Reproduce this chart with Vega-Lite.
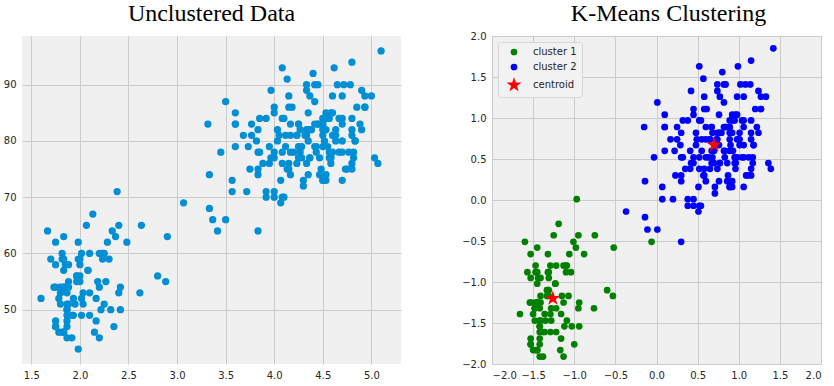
{
"$schema": "https://vega.github.io/schema/vega-lite/v6.json",
"background": "white",
"padding": {"left": 3, "top": 2, "right": 5, "bottom": 5},
"resolve": {"scale": {"color": "independent", "shape": "independent"}},
"config": {
  "view": {"fill": "#f0f0f0", "stroke": null},
  "axis": {"domain": false, "ticks": false, "grid": true, "gridColor": "#cbcbcb", "gridWidth": 1, "labelFont": "DejaVu Sans", "labelFontSize": 10, "labelColor": "#262626", "labelPadding": 6},
  "title": {"font": "Liberation Serif", "fontSize": 24, "fontWeight": "normal", "color": "#000000", "anchor": "middle"},
  "concat": {"spacing": 60}
},
"data": {"values": [
{"e":3.6,"w":79,"x":0.10,"y":0.60,"c":"cluster 2"},
{"e":1.8,"w":54,"x":-1.48,"y":-1.25,"c":"cluster 1"},
{"e":3.333,"w":74,"x":-0.14,"y":0.23,"c":"cluster 2"},
{"e":2.283,"w":62,"x":-1.06,"y":-0.66,"c":"cluster 1"},
{"e":4.533,"w":85,"x":0.92,"y":1.04,"c":"cluster 2"},
{"e":2.883,"w":55,"x":-0.53,"y":-1.17,"c":"cluster 1"},
{"e":4.7,"w":88,"x":1.06,"y":1.26,"c":"cluster 2"},
{"e":3.6,"w":85,"x":0.10,"y":1.04,"c":"cluster 2"},
{"e":1.95,"w":51,"x":-1.35,"y":-1.47,"c":"cluster 1"},
{"e":4.35,"w":85,"x":0.76,"y":1.04,"c":"cluster 2"},
{"e":1.833,"w":54,"x":-1.45,"y":-1.25,"c":"cluster 1"},
{"e":3.917,"w":84,"x":0.38,"y":0.97,"c":"cluster 2"},
{"e":4.2,"w":78,"x":0.63,"y":0.52,"c":"cluster 2"},
{"e":1.75,"w":47,"x":-1.53,"y":-1.76,"c":"cluster 1"},
{"e":4.7,"w":83,"x":1.06,"y":0.89,"c":"cluster 2"},
{"e":2.167,"w":52,"x":-1.16,"y":-1.39,"c":"cluster 1"},
{"e":1.75,"w":62,"x":-1.53,"y":-0.66,"c":"cluster 1"},
{"e":4.8,"w":84,"x":1.15,"y":0.97,"c":"cluster 2"},
{"e":1.6,"w":52,"x":-1.66,"y":-1.39,"c":"cluster 1"},
{"e":4.25,"w":79,"x":0.67,"y":0.60,"c":"cluster 2"},
{"e":1.8,"w":51,"x":-1.48,"y":-1.47,"c":"cluster 1"},
{"e":1.75,"w":47,"x":-1.53,"y":-1.76,"c":"cluster 1"},
{"e":3.45,"w":78,"x":-0.03,"y":0.52,"c":"cluster 2"},
{"e":3.067,"w":69,"x":-0.37,"y":-0.14,"c":"cluster 2"},
{"e":4.533,"w":74,"x":0.92,"y":0.23,"c":"cluster 2"},
{"e":3.6,"w":83,"x":0.10,"y":0.89,"c":"cluster 2"},
{"e":1.967,"w":55,"x":-1.33,"y":-1.17,"c":"cluster 1"},
{"e":4.083,"w":76,"x":0.52,"y":0.38,"c":"cluster 2"},
{"e":3.85,"w":78,"x":0.32,"y":0.52,"c":"cluster 2"},
{"e":4.433,"w":79,"x":0.83,"y":0.60,"c":"cluster 2"},
{"e":4.3,"w":73,"x":0.71,"y":0.16,"c":"cluster 2"},
{"e":4.467,"w":77,"x":0.86,"y":0.45,"c":"cluster 2"},
{"e":3.367,"w":66,"x":-0.11,"y":-0.36,"c":"cluster 2"},
{"e":4.033,"w":80,"x":0.48,"y":0.67,"c":"cluster 2"},
{"e":3.833,"w":74,"x":0.30,"y":0.23,"c":"cluster 2"},
{"e":2.017,"w":52,"x":-1.29,"y":-1.39,"c":"cluster 1"},
{"e":1.867,"w":48,"x":-1.42,"y":-1.69,"c":"cluster 1"},
{"e":4.833,"w":80,"x":1.18,"y":0.67,"c":"cluster 2"},
{"e":1.833,"w":59,"x":-1.45,"y":-0.88,"c":"cluster 1"},
{"e":4.783,"w":90,"x":1.14,"y":1.41,"c":"cluster 2"},
{"e":4.35,"w":80,"x":0.76,"y":0.67,"c":"cluster 2"},
{"e":1.883,"w":58,"x":-1.41,"y":-0.95,"c":"cluster 1"},
{"e":4.567,"w":84,"x":0.95,"y":0.97,"c":"cluster 2"},
{"e":1.75,"w":58,"x":-1.53,"y":-0.95,"c":"cluster 1"},
{"e":4.533,"w":73,"x":0.92,"y":0.16,"c":"cluster 2"},
{"e":3.317,"w":83,"x":-0.15,"y":0.89,"c":"cluster 2"},
{"e":3.833,"w":64,"x":0.30,"y":-0.51,"c":"cluster 2"},
{"e":2.1,"w":53,"x":-1.22,"y":-1.32,"c":"cluster 1"},
{"e":4.633,"w":82,"x":1.01,"y":0.82,"c":"cluster 2"},
{"e":2.0,"w":59,"x":-1.31,"y":-0.88,"c":"cluster 1"},
{"e":4.8,"w":75,"x":1.15,"y":0.30,"c":"cluster 2"},
{"e":4.716,"w":90,"x":1.08,"y":1.41,"c":"cluster 2"},
{"e":1.833,"w":54,"x":-1.45,"y":-1.25,"c":"cluster 1"},
{"e":4.833,"w":80,"x":1.18,"y":0.67,"c":"cluster 2"},
{"e":1.733,"w":54,"x":-1.54,"y":-1.25,"c":"cluster 1"},
{"e":4.883,"w":83,"x":1.22,"y":0.89,"c":"cluster 2"},
{"e":3.717,"w":71,"x":0.20,"y":0.01,"c":"cluster 2"},
{"e":1.667,"w":64,"x":-1.60,"y":-0.51,"c":"cluster 1"},
{"e":4.567,"w":77,"x":0.95,"y":0.45,"c":"cluster 2"},
{"e":4.317,"w":81,"x":0.73,"y":0.74,"c":"cluster 2"},
{"e":2.233,"w":59,"x":-1.10,"y":-0.88,"c":"cluster 1"},
{"e":4.5,"w":84,"x":0.89,"y":0.97,"c":"cluster 2"},
{"e":1.75,"w":48,"x":-1.53,"y":-1.69,"c":"cluster 1"},
{"e":4.8,"w":82,"x":1.15,"y":0.82,"c":"cluster 2"},
{"e":1.817,"w":60,"x":-1.47,"y":-0.80,"c":"cluster 1"},
{"e":4.4,"w":92,"x":0.80,"y":1.56,"c":"cluster 2"},
{"e":4.167,"w":78,"x":0.60,"y":0.52,"c":"cluster 2"},
{"e":4.7,"w":78,"x":1.06,"y":0.52,"c":"cluster 2"},
{"e":2.067,"w":65,"x":-1.25,"y":-0.43,"c":"cluster 1"},
{"e":4.7,"w":73,"x":1.06,"y":0.16,"c":"cluster 2"},
{"e":4.033,"w":82,"x":0.48,"y":0.82,"c":"cluster 2"},
{"e":1.967,"w":56,"x":-1.33,"y":-1.10,"c":"cluster 1"},
{"e":4.5,"w":79,"x":0.89,"y":0.60,"c":"cluster 2"},
{"e":4.0,"w":71,"x":0.45,"y":0.01,"c":"cluster 2"},
{"e":1.983,"w":62,"x":-1.32,"y":-0.66,"c":"cluster 1"},
{"e":5.067,"w":76,"x":1.39,"y":0.38,"c":"cluster 2"},
{"e":2.017,"w":60,"x":-1.29,"y":-0.80,"c":"cluster 1"},
{"e":4.567,"w":78,"x":0.95,"y":0.52,"c":"cluster 2"},
{"e":3.883,"w":76,"x":0.35,"y":0.38,"c":"cluster 2"},
{"e":3.6,"w":83,"x":0.10,"y":0.89,"c":"cluster 2"},
{"e":4.133,"w":75,"x":0.57,"y":0.30,"c":"cluster 2"},
{"e":4.333,"w":82,"x":0.74,"y":0.82,"c":"cluster 2"},
{"e":4.1,"w":70,"x":0.54,"y":-0.07,"c":"cluster 2"},
{"e":2.633,"w":65,"x":-0.75,"y":-0.43,"c":"cluster 1"},
{"e":4.067,"w":73,"x":0.51,"y":0.16,"c":"cluster 2"},
{"e":4.933,"w":88,"x":1.27,"y":1.26,"c":"cluster 2"},
{"e":3.95,"w":76,"x":0.41,"y":0.38,"c":"cluster 2"},
{"e":4.517,"w":80,"x":0.90,"y":0.67,"c":"cluster 2"},
{"e":2.167,"w":48,"x":-1.16,"y":-1.69,"c":"cluster 1"},
{"e":4.0,"w":86,"x":0.45,"y":1.11,"c":"cluster 2"},
{"e":2.2,"w":60,"x":-1.13,"y":-0.80,"c":"cluster 1"},
{"e":4.333,"w":90,"x":0.74,"y":1.41,"c":"cluster 2"},
{"e":1.867,"w":50,"x":-1.42,"y":-1.54,"c":"cluster 1"},
{"e":4.817,"w":78,"x":1.17,"y":0.52,"c":"cluster 2"},
{"e":1.833,"w":63,"x":-1.45,"y":-0.58,"c":"cluster 1"},
{"e":4.3,"w":72,"x":0.71,"y":0.08,"c":"cluster 2"},
{"e":4.667,"w":84,"x":1.04,"y":0.97,"c":"cluster 2"},
{"e":3.75,"w":75,"x":0.23,"y":0.30,"c":"cluster 2"},
{"e":1.867,"w":51,"x":-1.42,"y":-1.47,"c":"cluster 1"},
{"e":4.9,"w":82,"x":1.24,"y":0.82,"c":"cluster 2"},
{"e":2.483,"w":62,"x":-0.88,"y":-0.66,"c":"cluster 1"},
{"e":4.367,"w":88,"x":0.77,"y":1.26,"c":"cluster 2"},
{"e":2.1,"w":49,"x":-1.22,"y":-1.61,"c":"cluster 1"},
{"e":4.5,"w":83,"x":0.89,"y":0.89,"c":"cluster 2"},
{"e":4.05,"w":81,"x":0.49,"y":0.74,"c":"cluster 2"},
{"e":1.867,"w":47,"x":-1.42,"y":-1.76,"c":"cluster 1"},
{"e":4.7,"w":84,"x":1.06,"y":0.97,"c":"cluster 2"},
{"e":1.783,"w":52,"x":-1.50,"y":-1.39,"c":"cluster 1"},
{"e":4.85,"w":86,"x":1.20,"y":1.11,"c":"cluster 2"},
{"e":3.683,"w":81,"x":0.17,"y":0.74,"c":"cluster 2"},
{"e":4.733,"w":75,"x":1.09,"y":0.30,"c":"cluster 2"},
{"e":2.3,"w":59,"x":-1.04,"y":-0.88,"c":"cluster 1"},
{"e":4.9,"w":89,"x":1.24,"y":1.33,"c":"cluster 2"},
{"e":4.417,"w":79,"x":0.82,"y":0.60,"c":"cluster 2"},
{"e":1.7,"w":59,"x":-1.57,"y":-0.88,"c":"cluster 1"},
{"e":4.633,"w":81,"x":1.01,"y":0.74,"c":"cluster 2"},
{"e":2.317,"w":50,"x":-1.03,"y":-1.54,"c":"cluster 1"},
{"e":4.6,"w":85,"x":0.98,"y":1.04,"c":"cluster 2"},
{"e":1.817,"w":59,"x":-1.47,"y":-0.88,"c":"cluster 1"},
{"e":4.417,"w":87,"x":0.82,"y":1.19,"c":"cluster 2"},
{"e":2.617,"w":53,"x":-0.76,"y":-1.32,"c":"cluster 1"},
{"e":4.067,"w":69,"x":0.51,"y":-0.14,"c":"cluster 2"},
{"e":4.25,"w":77,"x":0.67,"y":0.45,"c":"cluster 2"},
{"e":1.967,"w":56,"x":-1.33,"y":-1.10,"c":"cluster 1"},
{"e":4.6,"w":88,"x":0.98,"y":1.26,"c":"cluster 2"},
{"e":3.767,"w":81,"x":0.25,"y":0.74,"c":"cluster 2"},
{"e":1.917,"w":45,"x":-1.38,"y":-1.91,"c":"cluster 1"},
{"e":4.5,"w":82,"x":0.89,"y":0.82,"c":"cluster 2"},
{"e":2.267,"w":55,"x":-1.07,"y":-1.17,"c":"cluster 1"},
{"e":4.65,"w":90,"x":1.02,"y":1.41,"c":"cluster 2"},
{"e":1.867,"w":45,"x":-1.42,"y":-1.91,"c":"cluster 1"},
{"e":4.167,"w":83,"x":0.60,"y":0.89,"c":"cluster 2"},
{"e":2.8,"w":56,"x":-0.60,"y":-1.10,"c":"cluster 1"},
{"e":4.333,"w":89,"x":0.74,"y":1.33,"c":"cluster 2"},
{"e":1.833,"w":46,"x":-1.45,"y":-1.83,"c":"cluster 1"},
{"e":4.383,"w":82,"x":0.79,"y":0.82,"c":"cluster 2"},
{"e":1.883,"w":51,"x":-1.41,"y":-1.47,"c":"cluster 1"},
{"e":4.933,"w":86,"x":1.27,"y":1.11,"c":"cluster 2"},
{"e":2.033,"w":53,"x":-1.28,"y":-1.32,"c":"cluster 1"},
{"e":3.733,"w":79,"x":0.22,"y":0.60,"c":"cluster 2"},
{"e":4.233,"w":81,"x":0.65,"y":0.74,"c":"cluster 2"},
{"e":2.233,"w":60,"x":-1.10,"y":-0.80,"c":"cluster 1"},
{"e":4.533,"w":82,"x":0.92,"y":0.82,"c":"cluster 2"},
{"e":4.817,"w":77,"x":1.17,"y":0.45,"c":"cluster 2"},
{"e":4.333,"w":76,"x":0.74,"y":0.38,"c":"cluster 2"},
{"e":1.983,"w":59,"x":-1.32,"y":-0.88,"c":"cluster 1"},
{"e":4.633,"w":80,"x":1.01,"y":0.67,"c":"cluster 2"},
{"e":2.017,"w":49,"x":-1.29,"y":-1.61,"c":"cluster 1"},
{"e":5.1,"w":96,"x":1.42,"y":1.85,"c":"cluster 2"},
{"e":1.8,"w":53,"x":-1.48,"y":-1.32,"c":"cluster 1"},
{"e":5.033,"w":77,"x":1.36,"y":0.45,"c":"cluster 2"},
{"e":4.0,"w":77,"x":0.45,"y":0.45,"c":"cluster 2"},
{"e":2.4,"w":65,"x":-0.95,"y":-0.43,"c":"cluster 1"},
{"e":4.6,"w":81,"x":0.98,"y":0.74,"c":"cluster 2"},
{"e":3.567,"w":71,"x":0.07,"y":0.01,"c":"cluster 2"},
{"e":4.0,"w":70,"x":0.45,"y":-0.07,"c":"cluster 2"},
{"e":4.5,"w":81,"x":0.89,"y":0.74,"c":"cluster 2"},
{"e":4.083,"w":93,"x":0.52,"y":1.63,"c":"cluster 2"},
{"e":1.8,"w":53,"x":-1.48,"y":-1.32,"c":"cluster 1"},
{"e":3.967,"w":89,"x":0.42,"y":1.33,"c":"cluster 2"},
{"e":2.2,"w":45,"x":-1.13,"y":-1.91,"c":"cluster 1"},
{"e":4.15,"w":86,"x":0.58,"y":1.11,"c":"cluster 2"},
{"e":2.0,"w":58,"x":-1.31,"y":-0.95,"c":"cluster 1"},
{"e":3.833,"w":78,"x":0.30,"y":0.52,"c":"cluster 2"},
{"e":3.5,"w":66,"x":0.01,"y":-0.36,"c":"cluster 2"},
{"e":4.583,"w":76,"x":0.96,"y":0.38,"c":"cluster 2"},
{"e":2.367,"w":63,"x":-0.98,"y":-0.58,"c":"cluster 1"},
{"e":5.0,"w":88,"x":1.33,"y":1.26,"c":"cluster 2"},
{"e":1.933,"w":52,"x":-1.36,"y":-1.39,"c":"cluster 1"},
{"e":4.617,"w":93,"x":0.99,"y":1.63,"c":"cluster 2"},
{"e":1.917,"w":49,"x":-1.38,"y":-1.61,"c":"cluster 1"},
{"e":2.083,"w":57,"x":-1.23,"y":-1.02,"c":"cluster 1"},
{"e":4.583,"w":77,"x":0.96,"y":0.45,"c":"cluster 2"},
{"e":3.333,"w":68,"x":-0.14,"y":-0.21,"c":"cluster 2"},
{"e":4.167,"w":81,"x":0.60,"y":0.74,"c":"cluster 2"},
{"e":4.333,"w":81,"x":0.74,"y":0.74,"c":"cluster 2"},
{"e":4.5,"w":73,"x":0.89,"y":0.16,"c":"cluster 2"},
{"e":2.417,"w":50,"x":-0.94,"y":-1.54,"c":"cluster 1"},
{"e":4.0,"w":85,"x":0.45,"y":1.04,"c":"cluster 2"},
{"e":4.167,"w":74,"x":0.60,"y":0.23,"c":"cluster 2"},
{"e":1.883,"w":55,"x":-1.41,"y":-1.17,"c":"cluster 1"},
{"e":4.583,"w":77,"x":0.96,"y":0.45,"c":"cluster 2"},
{"e":4.25,"w":83,"x":0.67,"y":0.89,"c":"cluster 2"},
{"e":3.767,"w":83,"x":0.25,"y":0.89,"c":"cluster 2"},
{"e":2.033,"w":51,"x":-1.28,"y":-1.47,"c":"cluster 1"},
{"e":4.433,"w":78,"x":0.83,"y":0.52,"c":"cluster 2"},
{"e":4.083,"w":84,"x":0.52,"y":0.97,"c":"cluster 2"},
{"e":1.833,"w":46,"x":-1.45,"y":-1.83,"c":"cluster 1"},
{"e":4.417,"w":83,"x":0.82,"y":0.89,"c":"cluster 2"},
{"e":2.183,"w":55,"x":-1.15,"y":-1.17,"c":"cluster 1"},
{"e":4.8,"w":81,"x":1.15,"y":0.74,"c":"cluster 2"},
{"e":1.833,"w":57,"x":-1.45,"y":-1.02,"c":"cluster 1"},
{"e":4.8,"w":76,"x":1.15,"y":0.38,"c":"cluster 2"},
{"e":4.1,"w":84,"x":0.54,"y":0.97,"c":"cluster 2"},
{"e":3.966,"w":77,"x":0.42,"y":0.45,"c":"cluster 2"},
{"e":4.233,"w":81,"x":0.65,"y":0.74,"c":"cluster 2"},
{"e":3.5,"w":87,"x":0.01,"y":1.19,"c":"cluster 2"},
{"e":4.366,"w":77,"x":0.77,"y":0.45,"c":"cluster 2"},
{"e":2.25,"w":51,"x":-1.09,"y":-1.47,"c":"cluster 1"},
{"e":4.667,"w":78,"x":1.04,"y":0.52,"c":"cluster 2"},
{"e":2.1,"w":60,"x":-1.22,"y":-0.80,"c":"cluster 1"},
{"e":4.35,"w":82,"x":0.76,"y":0.82,"c":"cluster 2"},
{"e":4.133,"w":91,"x":0.57,"y":1.48,"c":"cluster 2"},
{"e":1.867,"w":53,"x":-1.42,"y":-1.32,"c":"cluster 1"},
{"e":4.6,"w":78,"x":0.98,"y":0.52,"c":"cluster 2"},
{"e":1.783,"w":46,"x":-1.50,"y":-1.83,"c":"cluster 1"},
{"e":4.367,"w":77,"x":0.77,"y":0.45,"c":"cluster 2"},
{"e":3.85,"w":84,"x":0.32,"y":0.97,"c":"cluster 2"},
{"e":1.933,"w":49,"x":-1.36,"y":-1.61,"c":"cluster 1"},
{"e":4.5,"w":83,"x":0.89,"y":0.89,"c":"cluster 2"},
{"e":2.383,"w":71,"x":-0.97,"y":0.01,"c":"cluster 1"},
{"e":4.7,"w":80,"x":1.06,"y":0.67,"c":"cluster 2"},
{"e":1.867,"w":49,"x":-1.42,"y":-1.61,"c":"cluster 1"},
{"e":3.833,"w":75,"x":0.30,"y":0.30,"c":"cluster 2"},
{"e":3.417,"w":64,"x":-0.06,"y":-0.51,"c":"cluster 1"},
{"e":4.233,"w":76,"x":0.65,"y":0.38,"c":"cluster 2"},
{"e":2.4,"w":53,"x":-0.95,"y":-1.32,"c":"cluster 1"},
{"e":4.8,"w":94,"x":1.15,"y":1.70,"c":"cluster 2"},
{"e":2.0,"w":55,"x":-1.31,"y":-1.17,"c":"cluster 1"},
{"e":4.15,"w":76,"x":0.58,"y":0.38,"c":"cluster 2"},
{"e":1.867,"w":50,"x":-1.42,"y":-1.54,"c":"cluster 1"},
{"e":4.267,"w":82,"x":0.68,"y":0.82,"c":"cluster 2"},
{"e":1.75,"w":54,"x":-1.53,"y":-1.25,"c":"cluster 1"},
{"e":4.483,"w":75,"x":0.87,"y":0.30,"c":"cluster 2"},
{"e":4.0,"w":78,"x":0.45,"y":0.52,"c":"cluster 2"},
{"e":4.117,"w":79,"x":0.55,"y":0.60,"c":"cluster 2"},
{"e":4.083,"w":78,"x":0.52,"y":0.52,"c":"cluster 2"},
{"e":4.267,"w":78,"x":0.68,"y":0.52,"c":"cluster 2"},
{"e":3.917,"w":70,"x":0.38,"y":-0.07,"c":"cluster 2"},
{"e":4.55,"w":79,"x":0.93,"y":0.60,"c":"cluster 2"},
{"e":4.083,"w":70,"x":0.52,"y":-0.07,"c":"cluster 2"},
{"e":2.417,"w":54,"x":-0.94,"y":-1.25,"c":"cluster 1"},
{"e":4.183,"w":86,"x":0.61,"y":1.11,"c":"cluster 2"},
{"e":2.217,"w":50,"x":-1.12,"y":-1.54,"c":"cluster 1"},
{"e":4.45,"w":90,"x":0.84,"y":1.41,"c":"cluster 2"},
{"e":1.883,"w":54,"x":-1.41,"y":-1.25,"c":"cluster 1"},
{"e":1.85,"w":54,"x":-1.44,"y":-1.25,"c":"cluster 1"},
{"e":4.283,"w":77,"x":0.70,"y":0.45,"c":"cluster 2"},
{"e":3.95,"w":79,"x":0.41,"y":0.60,"c":"cluster 2"},
{"e":2.333,"w":64,"x":-1.01,"y":-0.51,"c":"cluster 1"},
{"e":4.15,"w":75,"x":0.58,"y":0.30,"c":"cluster 2"},
{"e":2.35,"w":47,"x":-1.00,"y":-1.76,"c":"cluster 1"},
{"e":4.933,"w":86,"x":1.27,"y":1.11,"c":"cluster 2"},
{"e":2.9,"w":63,"x":-0.52,"y":-0.58,"c":"cluster 1"},
{"e":4.583,"w":85,"x":0.96,"y":1.04,"c":"cluster 2"},
{"e":3.833,"w":82,"x":0.30,"y":0.82,"c":"cluster 2"},
{"e":2.083,"w":57,"x":-1.23,"y":-1.02,"c":"cluster 1"},
{"e":4.367,"w":82,"x":0.77,"y":0.82,"c":"cluster 2"},
{"e":2.133,"w":67,"x":-1.19,"y":-0.29,"c":"cluster 1"},
{"e":4.35,"w":74,"x":0.76,"y":0.23,"c":"cluster 2"},
{"e":2.2,"w":54,"x":-1.13,"y":-1.25,"c":"cluster 1"},
{"e":4.45,"w":83,"x":0.84,"y":0.89,"c":"cluster 2"},
{"e":3.567,"w":73,"x":0.07,"y":0.16,"c":"cluster 2"},
{"e":4.5,"w":73,"x":0.89,"y":0.16,"c":"cluster 2"},
{"e":4.15,"w":88,"x":0.58,"y":1.26,"c":"cluster 2"},
{"e":3.817,"w":80,"x":0.29,"y":0.67,"c":"cluster 2"},
{"e":3.917,"w":71,"x":0.38,"y":0.01,"c":"cluster 2"},
{"e":4.45,"w":83,"x":0.84,"y":0.89,"c":"cluster 2"},
{"e":2.0,"w":56,"x":-1.31,"y":-1.10,"c":"cluster 1"},
{"e":4.283,"w":79,"x":0.70,"y":0.60,"c":"cluster 2"},
{"e":4.767,"w":78,"x":1.12,"y":0.52,"c":"cluster 2"},
{"e":4.533,"w":84,"x":0.92,"y":0.97,"c":"cluster 2"},
{"e":1.85,"w":58,"x":-1.44,"y":-0.95,"c":"cluster 1"},
{"e":4.25,"w":83,"x":0.67,"y":0.89,"c":"cluster 2"},
{"e":1.983,"w":43,"x":-1.32,"y":-2.06,"c":"cluster 1"},
{"e":2.25,"w":60,"x":-1.09,"y":-0.80,"c":"cluster 1"},
{"e":4.75,"w":75,"x":1.11,"y":0.30,"c":"cluster 2"},
{"e":4.117,"w":81,"x":0.55,"y":0.74,"c":"cluster 2"},
{"e":2.15,"w":46,"x":-1.17,"y":-1.83,"c":"cluster 1"},
{"e":4.417,"w":90,"x":0.82,"y":1.41,"c":"cluster 2"},
{"e":1.817,"w":46,"x":-1.47,"y":-1.83,"c":"cluster 1"},
{"e":4.467,"w":74,"x":0.86,"y":0.23,"c":"cluster 2"},
{"x":-1.26,"y":-1.20,"c":"centroid"},
{"x":0.70,"y":0.67,"c":"centroid"}
]},
"hconcat": [
{
  "width": 379, "height": 328,
  "title": {"text": "Unclustered Data", "offset": 10},
  "transform": [{"filter": "datum.c != 'centroid'"}],
  "mark": {"type": "point", "filled": true, "opacity": 1, "size": 53, "color": "#008fd5"},
  "encoding": {
    "x": {"field": "e", "type": "quantitative", "title": null, "scale": {"domain": [1.404, 5.305], "nice": false, "zero": false}, "axis": {"values": [1.5, 2.0, 2.5, 3.0, 3.5, 4.0, 4.5, 5.0], "format": ".1f"}},
    "y": {"field": "w", "type": "quantitative", "title": null, "scale": {"domain": [40.35, 98.65], "nice": false, "zero": false}, "axis": {"values": [50, 60, 70, 80, 90], "format": "d"}}
  }
},
{
  "width": 329, "height": 328,
  "title": {"text": "K-Means Clustering", "offset": 5, "dx": 12},
  "transform": [{"filter": "datum.y >= -2"}],
  "mark": {"type": "point", "filled": true, "opacity": 1},
  "encoding": {
    "x": {"field": "x", "type": "quantitative", "title": null, "scale": {"domain": [-2, 2], "nice": false, "zero": false}, "axis": {"values": [-2, -1.5, -1, -0.5, 0, 0.5, 1, 1.5, 2], "format": ".1f"}},
    "y": {"field": "y", "type": "quantitative", "title": null, "scale": {"domain": [-2, 2], "nice": false, "zero": false}, "axis": {"values": [-2, -1.5, -1, -0.5, 0, 0.5, 1, 1.5, 2], "format": ".1f"}},
    "color": {"field": "c", "type": "nominal", "title": null, "scale": {"domain": ["cluster 1", "cluster 2", "centroid"], "range": ["#008000", "#0000ff", "#ff0000"]},
      "legend": {"orient": "top-left", "offset": 6, "fillColor": "#f2f2f2", "strokeColor": "#d6d6d6", "cornerRadius": 3, "padding": 5, "symbolOffset": 6, "symbolSize": 45, "labelFont": "DejaVu Sans", "labelFontSize": 10, "labelColor": "#262626", "labelOffset": 14, "rowPadding": 5, "symbolOpacity": 1,
        "encode": {"symbols": {"update": {"size": {"signal": "datum.value === 'centroid' ? 250 : 45"}}}}}},
    "shape": {"field": "c", "type": "nominal", "title": null, "scale": {"domain": ["cluster 1", "cluster 2", "centroid"], "range": ["circle", "circle", "M0,-1L0.2245,-0.309L0.951,-0.309L0.363,0.118L0.588,0.809L0,0.382L-0.588,0.809L-0.363,0.118L-0.951,-0.309L-0.2245,-0.309Z"]}},
    "size": {"condition": {"test": "datum.c == 'centroid'", "value": 250}, "value": 45}
  }
}
]
}
